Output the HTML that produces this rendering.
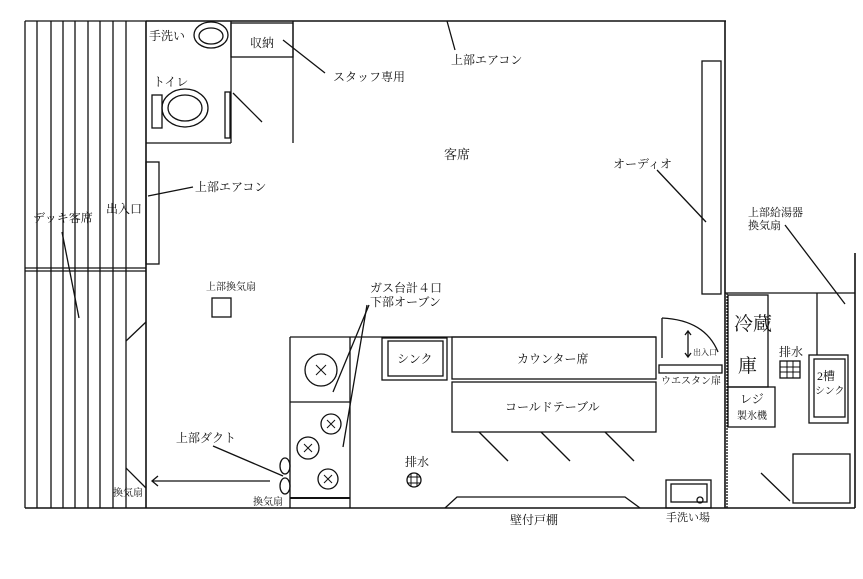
<!DOCTYPE html>
<html><head><meta charset="utf-8"><style>
html,body{margin:0;padding:0;background:#fff;}
svg{display:block;}
text{font-family:"Liberation Serif","Noto Serif CJK SC","Noto Sans CJK JP",serif;fill:#111;}
</style></head><body>
<svg width="863" height="579" viewBox="0 0 863 579" xmlns="http://www.w3.org/2000/svg">
<g stroke="#111" stroke-width="1.3" fill="none">
<line x1="25" y1="21" x2="146" y2="21"/>
<line x1="25" y1="21" x2="25" y2="508"/>
<line x1="37" y1="21" x2="37" y2="508"/>
<line x1="51" y1="21" x2="51" y2="508"/>
<line x1="63" y1="21" x2="63" y2="508"/>
<line x1="75" y1="21" x2="75" y2="508"/>
<line x1="88" y1="21" x2="88" y2="508"/>
<line x1="100" y1="21" x2="100" y2="508"/>
<line x1="113" y1="21" x2="113" y2="508"/>
<line x1="126" y1="21" x2="126" y2="508"/>
<line x1="146" y1="21" x2="146" y2="508" stroke-width="1.6"/>
<line x1="25" y1="268" x2="146" y2="268"/>
<line x1="25" y1="271" x2="146" y2="271"/>
<line x1="126" y1="341" x2="146" y2="322"/>
<line x1="126" y1="468" x2="146" y2="488"/>
<line x1="62" y1="232" x2="79" y2="318"/>
<line x1="146" y1="21" x2="726" y2="21" stroke-width="1.6"/>
<line x1="725" y1="21" x2="725" y2="508" stroke-width="1.6"/>
<line x1="727" y1="293" x2="727" y2="508" stroke-dasharray="2 1"/>
<line x1="725" y1="293" x2="855" y2="293"/>
<line x1="855" y1="253" x2="855" y2="508" stroke-width="1.6"/>
<line x1="25" y1="508" x2="855" y2="508" stroke-width="1.6"/>
<line x1="231" y1="21" x2="231" y2="143"/>
<line x1="146" y1="143" x2="231" y2="143"/>
<rect x="231" y="23" width="62" height="34"/>
<line x1="293" y1="21" x2="293" y2="143"/>
<line x1="233" y1="93" x2="262" y2="122"/>
<rect x="225" y="92" width="5" height="46"/>
<ellipse cx="211" cy="35" rx="17" ry="13"/>
<ellipse cx="211" cy="36" rx="12" ry="8"/>
<rect x="152" y="95" width="10" height="33"/>
<ellipse cx="185" cy="108" rx="23" ry="19"/>
<ellipse cx="185" cy="108" rx="17" ry="13"/>
<line x1="283" y1="40" x2="325" y2="73"/>
<rect x="146" y="162" width="13" height="102"/>
<line x1="148" y1="196" x2="193" y2="187"/>
<rect x="212" y="298" width="19" height="19"/>
<line x1="270" y1="481" x2="152" y2="481"/>
<polyline points="158,476 152,481 158,486"/>
<line x1="290" y1="337" x2="656" y2="337"/>
<line x1="290" y1="337" x2="290" y2="508"/>
<line x1="350" y1="337" x2="350" y2="508"/>
<line x1="290" y1="402" x2="350" y2="402"/>
<line x1="290" y1="498" x2="350" y2="498" stroke-width="2"/>
<circle cx="321" cy="370" r="16"/>
<circle cx="331" cy="424" r="10"/>
<circle cx="308" cy="448" r="11"/>
<circle cx="328" cy="479" r="10"/>
<path d="M316,365l10,10M326,365l-10,10M327,420l8,8M335,420l-8,8M304,444l8,8M312,444l-8,8M324,475l8,8M332,475l-8,8" stroke-width="1"/>
<line x1="369" y1="305" x2="333" y2="392"/>
<line x1="367" y1="305" x2="343" y2="447"/>
<ellipse cx="285" cy="466" rx="5" ry="8"/>
<ellipse cx="285" cy="486" rx="5" ry="8"/>
<line x1="213" y1="446" x2="283" y2="476"/>
<rect x="382" y="338" width="65" height="42"/>
<rect x="388" y="341" width="55" height="35"/>
<rect x="452" y="337" width="204" height="42"/>
<rect x="452" y="382" width="204" height="50"/>
<line x1="479" y1="432" x2="508" y2="461"/>
<line x1="541" y1="432" x2="570" y2="461"/>
<line x1="605" y1="432" x2="634" y2="461"/>
<circle cx="414" cy="480" r="7"/>
<path d="M407,477h14M407,483h14M411,473v14M417,473v14" stroke-width="1"/>
<polyline points="445,508 457,497 625,497 640,508"/>
<rect x="666" y="480" width="45" height="28"/>
<rect x="671" y="484" width="36" height="18"/>
<circle cx="700" cy="500" r="3"/>
<line x1="662" y1="318" x2="662" y2="358"/>
<path d="M662,318 Q705,320 718,352"/>
<rect x="659" y="365" width="63" height="8"/>
<line x1="688" y1="331" x2="688" y2="357"/>
<polyline points="685,335 688,331 691,335"/>
<polyline points="685,353 688,357 691,353"/>
<rect x="728" y="295" width="40" height="92"/>
<rect x="728" y="387" width="47" height="40"/>
<rect x="780" y="361" width="20" height="17"/>
<path d="M780,367h20M780,372h20M787,361v17M793,361v17" stroke-width="1"/>
<line x1="817" y1="293" x2="817" y2="355"/>
<rect x="809" y="355" width="39" height="68"/>
<rect x="814" y="359" width="31" height="58"/>
<line x1="785" y1="225" x2="845" y2="304"/>
<rect x="793" y="454" width="57" height="49"/>
<line x1="761" y1="473" x2="790" y2="501"/>
<rect x="702" y="61" width="19" height="233"/>
<line x1="657" y1="170" x2="706" y2="222"/>
<line x1="447" y1="21" x2="455" y2="50"/>
</g>
<g font-size="12">
<text x="149" y="40">手洗い</text>
<text x="153" y="86">トイレ</text>
<text x="250" y="47">収納</text>
<text x="333" y="81">スタッフ専用</text>
<text x="195" y="191">上部エアコン</text>
<text x="106" y="213">出入口</text>
<text x="33" y="222">デッキ客席</text>
<text x="451" y="64">上部エアコン</text>
<text x="444" y="159" font-size="13">客席</text>
<text x="613" y="168">オーディオ</text>
<text x="748" y="216" font-size="11">上部給湯器</text>
<text x="748" y="229" font-size="11">換気扇</text>
<text x="206" y="290" font-size="10">上部換気扇</text>
<text x="370" y="292">ガス台計４口</text>
<text x="370" y="306">下部オーブン</text>
<text x="176" y="442">上部ダクト</text>
<text x="253" y="505" font-size="10">換気扇</text>
<text x="113" y="496" font-size="10">換気扇</text>
<text x="397" y="363">シンク</text>
<text x="517" y="363">カウンター席</text>
<text x="505" y="411">コールドテーブル</text>
<text x="405" y="466">排水</text>
<text x="510" y="524">壁付戸棚</text>
<text x="666" y="521" font-size="11">手洗い場</text>
<text x="693" y="355" font-size="8">出入口</text>
<text x="661" y="384" font-size="10">ウエスタン扉</text>
<text x="734" y="330" font-size="19">冷蔵</text>
<text x="738" y="372" font-size="19">庫</text>
<text x="740" y="403">レジ</text>
<text x="737" y="419" font-size="10">製氷機</text>
<text x="779" y="356">排水</text>
<text x="817" y="380" font-size="12">2槽</text>
<text x="815" y="394" font-size="10">シンク</text>
</g>
</svg>
</body></html>
